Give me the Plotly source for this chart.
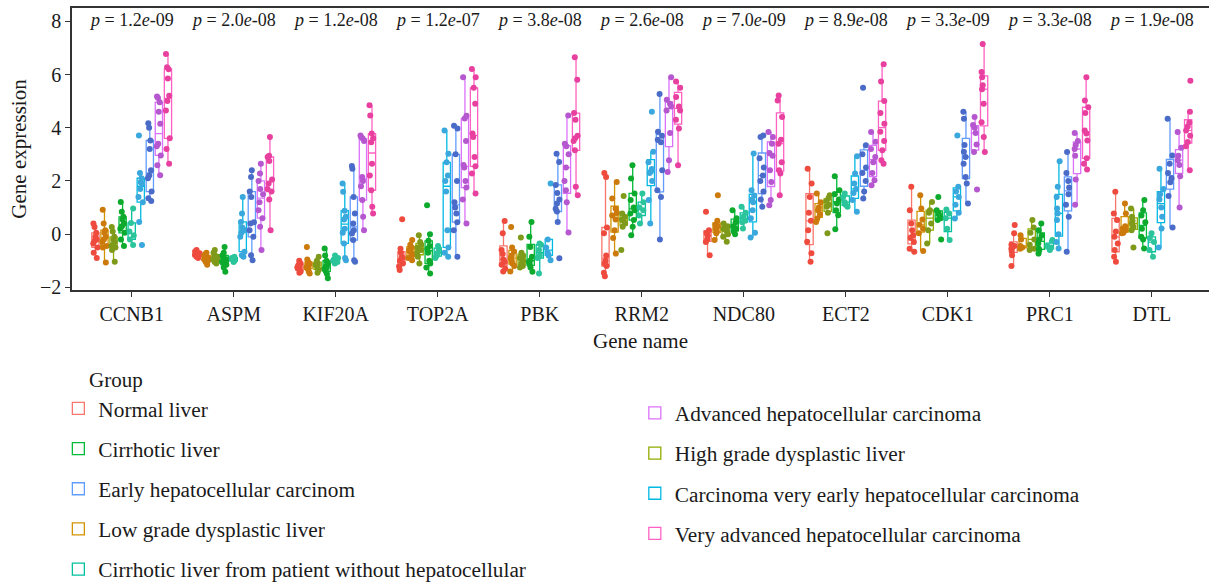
import plotly.graph_objects as go

genes = ["CCNB1", "ASPM", "KIF20A", "TOP2A", "PBK", "RRM2", "NDC80", "ECT2", "CDK1", "PRC1", "DTL"]
p_values = ["1.2e-09", "2.0e-08", "1.2e-08", "1.2e-07", "3.8e-08", "2.6e-08",
            "7.0e-09", "8.9e-08", "3.3e-09", "3.3e-08", "1.9e-08"]

# values per gene (same order as genes) for each group
normal_liver = [
    [0.4, 0.27, 0.05, -0.1, -0.2, -0.25, -0.35, -0.5, -0.7, -0.9],
    [-0.6, -0.65, -0.7, -0.72, -0.75, -0.78, -0.8, -0.85, -0.9],
    [-1.0, -1.1, -1.15, -1.2, -1.25, -1.3, -1.35, -1.4, -1.45],
    [0.56, -0.55, -0.7, -0.85, -0.9, -1.0, -1.1, -1.22, -1.35],
    [0.49, 0.03, -0.6, -0.75, -0.95, -1.05, -1.15, -1.3, -1.4],
    [2.3, 2.15, 0.25, 0.03, -0.8, -1.0, -1.1, -1.2, -1.45, -1.58],
    [0.84, 0.15, 0.05, -0.05, -0.2, -0.3, -0.79],
    [2.46, 1.9, 1.4, 0.8, 0.5, 0.15, -0.29, -0.72, -1.04],
    [1.78, 0.9, 0.4, 0.15, -0.05, -0.15, -0.3, -0.55, -0.66],
    [0.34, 0.03, -0.4, -0.45, -0.5, -0.55, -0.65, -0.79, -1.2],
    [1.59, 0.78, 0.53, 0.1, -0.1, -0.35, -0.6, -0.85, -1.04],
]
low_grade = [
    [0.92, 0.4, 0.15, 0.05, -0.1, -0.2, -0.3, -0.45, -0.5, -1.07],
    [-0.7, -0.75, -0.8, -0.85, -0.9, -0.92, -0.95, -1.0, -1.05, -1.15],
    [-0.48, -0.95, -1.05, -1.1, -1.15, -1.2, -1.25, -1.3, -1.4, -1.48],
    [-0.22, -0.4, -0.5, -0.6, -0.65, -0.7, -0.8, -0.9, -0.98],
    [0.27, -0.5, -0.65, -0.8, -0.9, -1.0, -1.1, -1.2, -1.4],
    [1.96, 1.34, 0.95, 0.8, 0.7, 0.55, 0.15, -0.15, -0.73],
    [1.46, 0.5, 0.35, 0.3, 0.2, 0.1, 0.03, -0.22],
    [1.53, 1.2, 1.0, 0.9, 0.75, 0.59, 0.46],
    [1.46, 0.96, 0.55, 0.35, 0.2, 0.03, -0.63],
    [-0.04, -0.2, -0.45, -0.5, -0.55],
    [1.15, 0.78, 0.3, 0.2, 0.15, 0.05, 0.03],
]
high_grade = [
    [0.27, 0.1, -0.1, -0.2, -0.3, -0.4, -0.45, -0.5, -0.6, -1.04],
    [-0.6, -0.7, -0.8, -0.85, -0.9, -0.95, -1.0, -1.05, -1.1],
    [-0.85, -1.0, -1.1, -1.15, -1.2, -1.3, -1.35, -1.45],
    [-0.04, -0.3, -0.4, -0.5, -0.6, -0.7, -0.85, -1.1],
    [-0.13, -0.7, -0.8, -0.9, -1.0, -1.1, -1.2, -1.25],
    [1.43, 0.78, 0.65, 0.55, 0.5, 0.4, 0.28, -0.6],
    [0.4, 0.3, 0.2, 0.1, 0.0, -0.1, -0.29],
    [1.46, 1.35, 1.25, 1.1, 1.03, 0.8, 0.03],
    [1.21, 0.9, 0.8, 0.4, 0.15, -0.35],
    [0.53, 0.25, 0.05, -0.2, -0.4, -0.55, -0.6],
    [0.96, 0.65, 0.5, 0.4, 0.28, 0.15, -0.5],
]
cirrhotic = [
    [1.21, 0.84, 0.65, 0.55, 0.4, 0.3, 0.2, 0.05, -0.2, -0.45],
    [-0.48, -0.7, -0.8, -0.9, -0.95, -1.0, -1.05, -1.15, -1.25, -1.41],
    [-0.54, -0.8, -1.0, -1.1, -1.2, -1.25, -1.3, -1.4, -1.5, -1.66],
    [1.09, 0.0, -0.25, -0.45, -0.55, -0.7, -1.0, -1.1, -1.25, -1.48],
    [0.46, -0.1, -0.48, -0.85, -1.0, -1.05, -1.15, -1.25, -1.41],
    [2.59, 2.09, 1.53, 1.28, 1.0, 0.9, 0.78, 0.53, 0.28, -0.04],
    [0.9, 0.6, 0.45, 0.3, 0.2, 0.1, 0.0],
    [2.18, 1.65, 1.5, 1.3, 1.15, 0.9, 0.71, 0.18],
    [1.4, 0.9, 0.8, 0.7, 0.6, 0.53, -0.2],
    [0.4, 0.15, -0.05, -0.2, -0.35, -0.55, -0.6, -0.73],
    [1.28, 0.9, 0.7, 0.45, 0.2, -0.1, -0.2, -0.54],
]
cirrhotic_no_hcc = [
    [0.96, 0.42, 0.1, -0.05, -0.2, -0.41],
    [-0.85, -0.9, -0.95, -1.0, -1.05],
    [-0.8, -0.9, -0.95, -1.0, -1.05, -1.1],
    [-0.45, -0.55, -0.7, -0.8, -0.9],
    [-0.35, -0.4, -0.6, -0.8, -0.9, -1.48],
    [1.53, 1.2, 1.0, 0.9, 0.7, 0.4],
    [1.03, 0.8, 0.65, 0.5, 0.45, 0.21],
    [1.53, 1.4, 1.2, 1.1, 1.03],
    [0.93, 0.78, 0.6, 0.2, -0.22],
    [-0.22, -0.45, -0.5, -0.6],
    [0.03, -0.15, -0.3, -0.6, -0.85],
]
very_early_hcc = [
    [3.71, 2.3, 2.1, 1.95, 1.9, 1.7, 1.4, 1.2, 0.46, -0.41],
    [1.4, 0.78, 0.46, 0.25, 0.15, 0.05, -0.1, -0.66, -0.79, -0.85],
    [1.9, 1.59, 0.88, 0.65, 0.55, 0.2, 0.05, -0.35, -0.9, -0.98],
    [3.9, 3.02, 2.7, 2.2, 2.0, 1.6, 0.15, -0.5, -0.7, -0.85],
    [1.9, -0.2, -0.5, -0.7, -0.8, -0.98],
    [4.6, 3.1, 2.7, 2.45, 2.35, 2.3, 2.0, 1.28, 0.4],
    [3.03, 1.65, 1.45, 1.3, 1.2, 0.9, 0.6, 0.05, -0.13],
    [2.93, 2.28, 1.9, 1.7, 1.55, 1.28, 0.84],
    [3.71, 1.78, 1.6, 1.4, 1.1, 0.8, 0.59],
    [2.74, 1.78, 1.4, 0.96, 0.78, 0.53, 0.0, -0.3, -0.54],
    [2.46, 1.7, 1.5, 1.3, 1.0, 0.65, 0.21, -0.5],
]
early_hcc = [
    [4.17, 4.0, 3.52, 3.2, 2.4, 2.2, 2.1, 1.6, 1.35, 1.25],
    [2.4, 2.15, 1.6, 1.4, 0.45, 0.4, 0.15, -0.1, -0.79, -0.98],
    [2.56, 2.46, 1.4, 0.78, 0.4, 0.15, 0.02, -0.22, -0.98, -1.04],
    [4.07, 3.97, 3.0, 2.0, 1.2, 1.0, 0.78, 0.45, 0.15, -0.85],
    [3.02, 2.71, 1.85, 1.55, 1.3, 1.15, 0.95, 0.85, 0.46, -0.91],
    [5.27, 3.85, 3.7, 3.55, 3.45, 2.4, 1.65, 1.4, -0.2],
    [3.71, 3.65, 2.85, 2.5, 2.2, 2.0, 1.6, 1.3, 1.03],
    [5.5, 3.34, 3.0, 2.5, 2.3, 2.0, 1.6, 1.34],
    [4.6, 4.34, 3.35, 3.1, 2.9, 2.65, 2.15, 1.9, 1.15],
    [3.09, 2.3, 2.0, 1.75, 1.5, 1.1, 0.65, -0.66],
    [4.34, 2.96, 2.65, 2.3, 2.1, 1.95, 1.43, 0.25],
]
advanced_hcc = [
    [5.17, 5.12, 4.96, 4.6, 4.15, 3.4, 3.3, 2.96, 2.59, 2.21],
    [2.65, 2.28, 2.0, 1.7, 1.5, 1.2, 0.9, 0.6, 0.28, -0.6],
    [3.71, 3.65, 3.59, 3.5, 2.15, 2.0, 1.8, 1.28, 0.65, 0.15],
    [5.9, 4.45, 4.35, 3.5, 2.6, 2.5, 2.0, 1.75, 1.3, 0.4],
    [4.46, 3.4, 3.3, 3.0, 2.5, 2.0, 1.65, 1.2, 0.06],
    [5.9, 5.05, 4.9, 4.8, 4.65, 3.8, 2.78, 2.34],
    [3.84, 3.65, 3.4, 3.05, 2.95, 2.4, 1.96, 1.28, 1.09],
    [3.84, 3.47, 3.2, 2.9, 2.7, 2.3, 2.03, 1.84],
    [4.4, 4.1, 4.0, 3.8, 3.37, 3.09, 1.68],
    [3.8, 3.5, 3.35, 3.2, 2.95, 2.05, 1.1],
    [3.84, 3.25, 2.95, 2.78, 2.6, 2.18, 1.0],
]
very_advanced_hcc = [
    [6.77, 6.27, 6.2, 5.85, 5.2, 5.0, 4.65, 3.6, 3.2, 2.65],
    [3.65, 2.95, 2.9, 2.75, 2.05, 1.9, 1.7, 1.6, 1.3, 0.15],
    [4.84, 4.46, 3.78, 3.6, 3.45, 2.65, 2.2, 1.65, 1.03, 0.78],
    [6.21, 5.9, 5.5, 4.9, 3.78, 3.65, 2.9, 2.55, 2.28, 1.53],
    [6.65, 5.8, 4.55, 4.3, 3.7, 3.6, 3.5, 3.15, 1.78, 1.46],
    [5.74, 5.5, 5.15, 4.8, 4.65, 4.3, 3.97, 2.59],
    [5.21, 5.02, 4.4, 3.55, 3.4, 2.7, 2.4, 2.28, 1.46],
    [6.39, 5.74, 5.0, 4.55, 4.15, 3.85, 3.5, 3.15, 2.78, 2.65],
    [7.15, 6.09, 5.9, 5.6, 5.45, 4.9, 4.21, 3.65, 3.09],
    [5.9, 5.02, 4.77, 4.55, 3.9, 3.78, 3.52, 2.85, 2.65, 2.43],
    [5.77, 4.6, 4.2, 4.05, 3.9, 3.7, 3.46, 3.3, 2.4],
]

group_names = [
    "Normal liver", "Low grade dysplastic liver", "High grade dysplastic liver",
    "Cirrhotic liver", "Cirrhotic liver from patient without hepatocellular",
    "Carcinoma very early hepatocellular carcinoma", "Early hepatocellular carcinom",
    "Advanced hepatocellular carcinoma", "Very advanced hepatocellular carcinoma",
]
group_data = [normal_liver, low_grade, high_grade, cirrhotic, cirrhotic_no_hcc,
              very_early_hcc, early_hcc, advanced_hcc, very_advanced_hcc]
box_colors = ["#F8766D", "#D39200", "#93AA00", "#00BA38", "#00C19F",
              "#00B9E3", "#619CFF", "#DB72FB", "#FF61C3"]
point_colors = ["#EE4B3E", "#CC7A0C", "#7F9A1A", "#0DAA2E", "#2CC49A",
                "#3AA8DC", "#4A6CC8", "#B557CF", "#E8409E"]
# legend columns and display order (ggplot-like two column legend)
legend_left = ["Normal liver", "Cirrhotic liver", "Early hepatocellular carcinom",
               "Low grade dysplastic liver", "Cirrhotic liver from patient without hepatocellular"]
legend_right = ["Advanced hepatocellular carcinoma", "High grade dysplastic liver",
                "Carcinoma very early hepatocellular carcinoma", "Very advanced hepatocellular carcinoma"]

SERIF = "Liberation Serif, Times New Roman, serif"
TXT = "#1a1a1a"
W, H = 1209, 583
ML, MT, MB = 72, 8, 293
plot_w = W - ML
plot_h = H - MT - MB

fig = go.Figure()
for name, data, bc, pc in zip(group_names, group_data, box_colors, point_colors):
    xs, ys = [], []
    for g, vals in zip(genes, data):
        xs += [g] * len(vals)
        ys += vals
    if name in legend_left:
        leg, rank = "legend", legend_left.index(name)
    else:
        leg, rank = "legend2", legend_right.index(name)
    fig.add_trace(go.Box(
        x=xs, y=ys, name=name, legend=leg, legendgroup=name, legendrank=rank + 1,
        boxpoints="all", jitter=0.75, pointpos=0,
        marker=dict(color=pc, size=6, line=dict(width=0)),
        line=dict(color=bc, width=1.3),
        fillcolor="rgba(255,255,255,0)",
        whiskerwidth=0,
    ))

for g, p in zip(genes, p_values):
    mant, ex = p.split("e")
    fig.add_annotation(x=g, y=8.05, xref="x", yref="y", showarrow=False,
                       text=f"<i>p</i> = {mant}<i>e</i>{ex}",
                       font=dict(family=SERIF, size=18, color=TXT))

fig.add_annotation(x=(87 - ML) / plot_w, y=(H - MB - 380) / plot_h,
                   xref="paper", yref="paper", text="Group", showarrow=False,
                   xanchor="left", yanchor="middle",
                   font=dict(family=SERIF, size=21, color=TXT))

fig.update_layout(
    width=W, height=H,
    margin=dict(l=ML, r=0, t=MT, b=MB),
    paper_bgcolor="white", plot_bgcolor="white",
    boxmode="group", boxgap=0.2, boxgroupgap=0.2,
    font=dict(family=SERIF, color=TXT),
    xaxis=dict(
        categoryorder="array", categoryarray=genes,
        range=[-0.585, 10.56],
        showline=True, linecolor="#333333", linewidth=1.5, mirror=True,
        ticks="outside", ticklen=5, tickwidth=1.3, tickcolor="#333333",
        tickfont=dict(family=SERIF, size=20, color=TXT),
        title=dict(text="Gene name", font=dict(family=SERIF, size=21, color=TXT), standoff=10),
        showgrid=False, zeroline=False,
    ),
    yaxis=dict(
        range=[-2.1, 8.5],
        tickvals=[-2, 0, 2, 4, 6, 8],
        showline=True, linecolor="#333333", linewidth=1.5,
        ticks="outside", ticklen=5, tickwidth=1.3, tickcolor="#333333",
        tickfont=dict(family=SERIF, size=20, color=TXT),
        title=dict(text="Gene expression", font=dict(family=SERIF, size=21, color=TXT), standoff=8),
        showgrid=False, zeroline=False,
    ),
    legend=dict(
        x=-0.012, y=1 - 388 / H, xanchor="left", yanchor="top", yref="container",
        orientation="v", tracegroupgap=9.5,
        font=dict(family=SERIF, size=21.3, color=TXT),
        bgcolor="rgba(0,0,0,0)",
    ),
    legend2=dict(
        x=0.495, y=1 - 392.5 / H, xanchor="left", yanchor="top", yref="container",
        orientation="v", tracegroupgap=9.5,
        font=dict(family=SERIF, size=21.3, color=TXT),
        bgcolor="rgba(0,0,0,0)",
    ),
)

fig.write_html("out.html")
